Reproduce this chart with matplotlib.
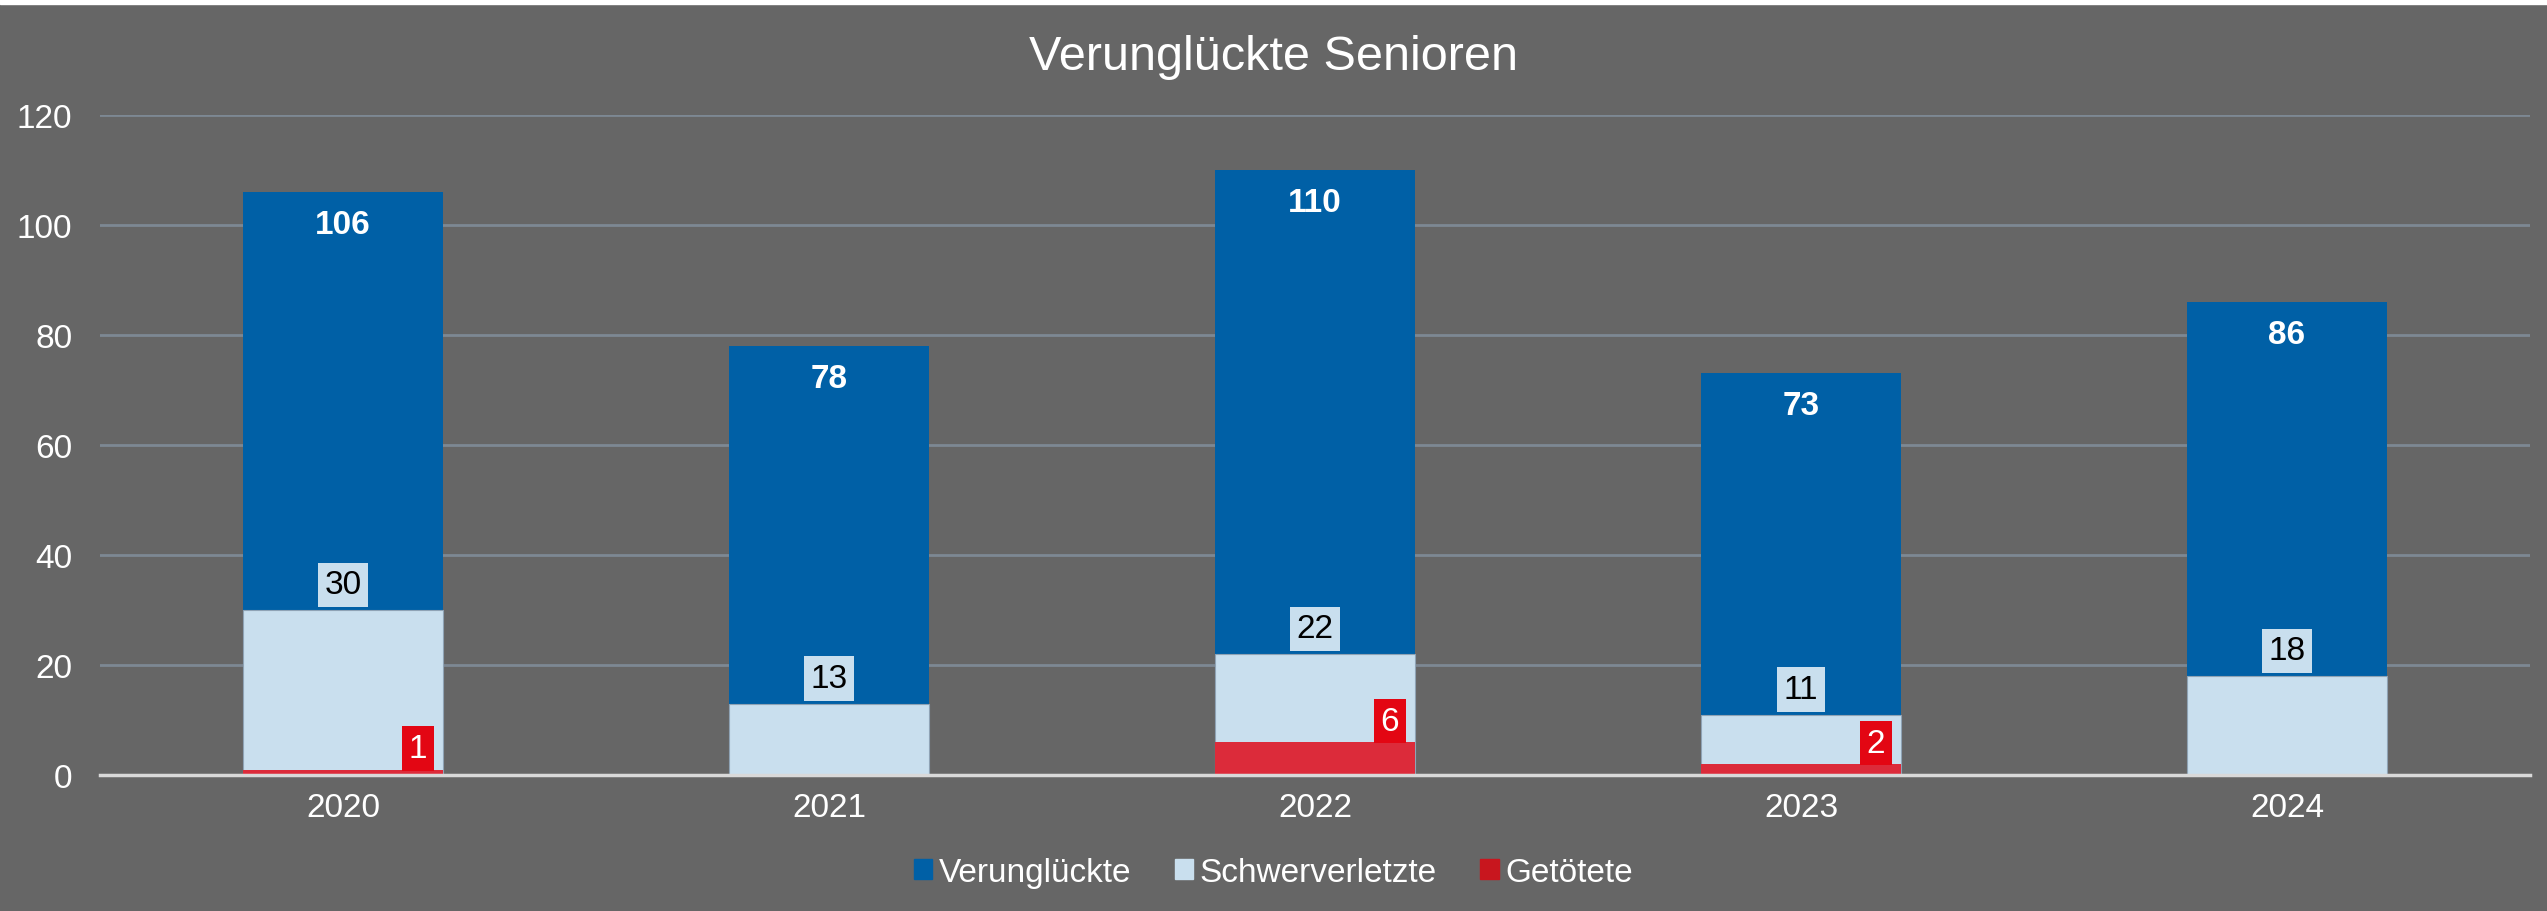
import matplotlib.pyplot as plt
from matplotlib.patches import Rectangle

plt.rcParams['font.family'] = ['Liberation Sans', 'DejaVu Sans']

# Daten
jahre = ['2020', '2021', '2022', '2023', '2024']
verunglueckte = [106, 78, 110, 73, 86]
schwerverletzte = [30, 13, 22, 11, 18]
getoetete = [1, 0, 6, 2, 0]

bg = '#666666'
blau = '#0060A6'
hellblau = '#C9DFEE'
rot = '#DC2B3A'
rot_label = '#E30613'
rot_legende = '#C8161E'
fs = 24

fig = plt.figure(figsize=(25.47, 9.12), dpi=100, facecolor=bg)
fig.patches.append(Rectangle((0, 0.994), 1, 0.006, transform=fig.transFigure, color='white', zorder=0))
ax = fig.add_axes([0.0393, 0.149, 0.954, 0.724])
ax.set_facecolor(bg)

x = range(len(jahre))
w = 0.41
ax.bar(x, verunglueckte, width=w, color=blau, zorder=2)
ax.bar(x, schwerverletzte, width=w, color=hellblau, edgecolor='#8FA3B5', linewidth=0.8, zorder=3)
ax.bar(x, getoetete, width=w, color=rot, zorder=4)

for i in x:
    ax.annotate(str(verunglueckte[i]), (i, verunglueckte[i]), xytext=(0, -12), textcoords='offset points',
                ha='center', va='top', color='white', fontsize=fs, fontweight='bold', zorder=5)
    ax.annotate(str(schwerverletzte[i]), (i, schwerverletzte[i]), xytext=(0, 7), textcoords='offset points',
                ha='center', va='bottom', color='black', fontsize=fs, zorder=5,
                bbox=dict(boxstyle='square,pad=0.2', fc=hellblau, ec='none'))
    if getoetete[i] > 0:
        ax.annotate(str(getoetete[i]), (i + w / 2, getoetete[i]), xytext=(-11, 4), textcoords='offset points',
                    ha='right', va='bottom', color='white', fontsize=fs, zorder=5,
                    bbox=dict(boxstyle='square,pad=0.2', fc=rot_label, ec='none'))

ax.set_xlim(-0.5, len(jahre) - 0.5)
ax.set_ylim(0, 120)
ax.set_yticks(range(0, 121, 20))
ax.set_xticks(list(x))
ax.set_xticklabels(jahre)
ax.tick_params(colors='white', labelsize=fs, length=0, pad=12)
ax.tick_params(axis='y', pad=20)
ax.grid(axis='y', color='#7D8893', linewidth=2, zorder=1)
for s in ['top', 'right', 'left']:
    ax.spines[s].set_visible(False)
ax.spines['bottom'].set_color('#D9D9D9')
ax.spines['bottom'].set_linewidth(2.5)
ax.spines['bottom'].set_zorder(6)

fig.text(0.5, 0.937, 'Verunglückte Senioren', ha='center', va='center', color='white', fontsize=35)

handles = [Rectangle((0, 0), 1, 1, color=c) for c in [blau, hellblau, rot_legende]]
fig.legend(handles, ['Verunglückte', 'Schwerverletzte', 'Getötete'], loc='center', bbox_to_anchor=(0.5, 0.042),
           ncol=3, frameon=False, labelcolor='white', fontsize=fs, handlelength=0.55, handleheight=0.55,
           handletextpad=0.2, columnspacing=1.3)

plt.savefig('out.png', facecolor=bg)
